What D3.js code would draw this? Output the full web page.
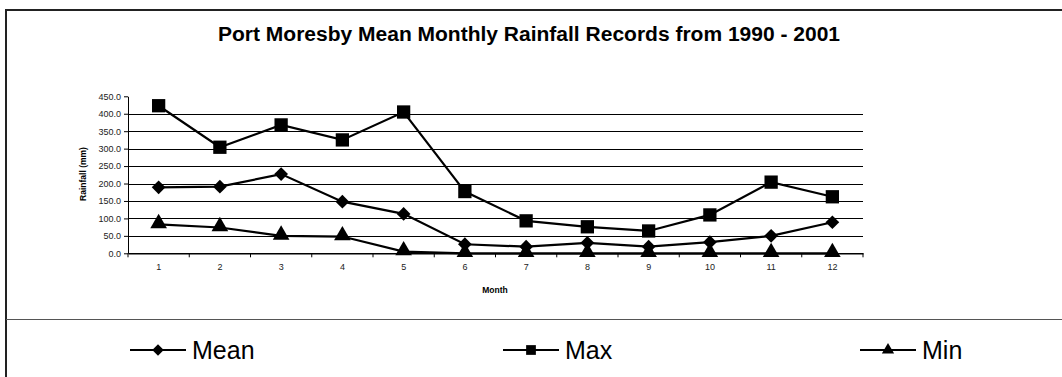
<!DOCTYPE html>
<html><head><meta charset="utf-8">
<script src="https://cdn.jsdelivr.net/npm/d3@7"></script>
<style>html,body{margin:0;padding:0;background:#fff;}svg{display:block;}</style>
</head><body>
<svg id="c" width="1062" height="377"></svg>
<script>
const months = [1,2,3,4,5,6,7,8,9,10,11,12];
const meanVals = [189,191,227,148,113,26,19,30,19,32,50,89];
const maxVals = [423,304,368,325,405,177,93,76,64,110,204,162];
const minVals = [83,74,50,48,5,0,0,0,0,0,0,0];
const yTicks = [0,50,100,150,200,250,300,350,400,450];
const seriesNames = ["Mean","Max","Min"];
const title = "Port Moresby Mean Monthly Rainfall Records from 1990 - 2001";

(function(){
const svg = d3.select("#c");
const font = "Arial, 'Liberation Sans', sans-serif";

// outer frame
svg.append("path").attr("d","M6,377 V10 H1062").attr("fill","none").attr("stroke","#222").attr("stroke-width",2);
svg.append("line").attr("x1",6).attr("x2",1062).attr("y1",319.5).attr("y2",319.5).attr("stroke","#555").attr("stroke-width",1);

svg.append("text").attr("x",529).attr("y",41).attr("text-anchor","middle")
  .attr("font-family",font).attr("font-weight","bold").attr("font-size",19.5)
  .attr("textLength",622).attr("lengthAdjust","spacingAndGlyphs").text(title);

const pL=128, pR=863, pT=96.3, pB=253.3;
const x = d3.scaleBand().domain(months).range([pL,pR]);
const y = d3.scaleLinear().domain([0,450]).range([pB,pT]);

// gridlines
svg.append("g").selectAll("line").data(yTicks.filter(v=>v>0 && v<450)).join("line")
  .attr("x1",pL).attr("x2",pR).attr("y1",d=>Math.round(y(d))+0.5).attr("y2",d=>Math.round(y(d))+0.5)
  .attr("stroke","#000").attr("stroke-width",1);

// y axis
const ya = svg.append("g").attr("transform",`translate(${pL},0)`)
  .call(d3.axisLeft(y).tickValues(yTicks).tickFormat(d3.format(".1f")).tickSize(4).tickSizeOuter(0));
ya.selectAll("text").attr("font-family",font).attr("font-size",9).attr("fill","#222");
ya.selectAll("line,path").attr("stroke","#000");

// x axis
const xa = svg.append("g").attr("transform",`translate(0,${pB})`)
  .call(d3.axisBottom(x).tickSize(0).tickPadding(10));
xa.selectAll("text").attr("font-family",font).attr("font-size",9).attr("fill","#222");
xa.select("path").attr("stroke","#000").attr("stroke-width",1.5);
const bounds = d3.range(months.length+1).map(i=>pL+i*x.step());
svg.append("g").selectAll("line").data(bounds).join("line")
  .attr("x1",d=>d).attr("x2",d=>d).attr("y1",pB).attr("y2",pB+4).attr("stroke","#000");

svg.append("text").attr("x",495).attr("y",293).attr("text-anchor","middle")
  .attr("font-family",font).attr("font-weight","bold").attr("font-size",8.5).text("Month");
svg.append("text").attr("transform","translate(86,174) rotate(-90)").attr("text-anchor","middle")
  .attr("font-family",font).attr("font-weight","bold").attr("font-size",8.5).text("Rainfall (mm)");

const symbols = {Mean:d3.symbolDiamond2, Max:d3.symbolSquare2, Min:d3.symbolTriangle};
const bigSize = {Mean:120, Max:225, Min:120};
const data = {Mean:meanVals, Max:maxVals, Min:minVals};
const cx = m => x(m)+x.bandwidth()/2;
const line = d3.line().x((d,i)=>cx(months[i])).y(d=>y(d));

seriesNames.forEach(s=>{
  svg.append("path").datum(data[s]).attr("d",line).attr("fill","none").attr("stroke","#000").attr("stroke-width",2.2);
});
seriesNames.forEach(s=>{
  svg.append("g").selectAll("path").data(data[s]).join("path")
    .attr("transform",(d,i)=>`translate(${cx(months[i])},${y(d)-(s==="Min"?1:0)})`)
    .attr("d",d3.symbol().type(symbols[s]).size(bigSize[s])).attr("fill","#000");
});

// legend
const legX = {Mean:158, Max:531, Min:888};
const legSize = {Mean:85, Max:121, Min:65};
seriesNames.forEach(s=>{
  const g = svg.append("g").attr("transform",`translate(${legX[s]},350)`);
  g.append("line").attr("x1",-28).attr("x2",28).attr("stroke","#000").attr("stroke-width",2);
  g.append("path").attr("d",d3.symbol().type(symbols[s]).size(legSize[s])).attr("fill","#000");
  g.append("text").attr("x",34).attr("y",9).attr("font-family",font).attr("font-size",25).text(s);
});
})();
</script>
</body></html>
